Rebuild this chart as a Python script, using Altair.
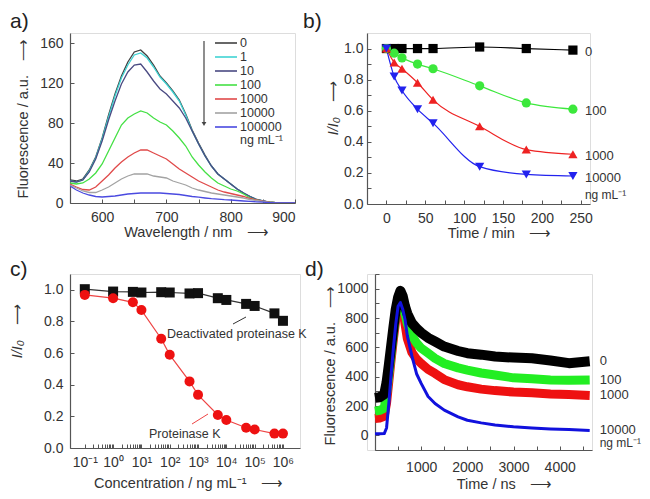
import altair as alt
import pandas as pd

FONT = "Liberation Sans"
TXT = "#333333"
AXC = "#555555"
ARROW = "\u2002\u2002\u27F6"
NG = "ng mL\u207B\u00B9"

# ---------------- panel a : emission spectra ----------------
wavelength = [550, 560, 570, 580, 590, 600, 610, 620, 630, 640, 650, 660, 670, 680, 690,
              700, 710, 720, 730, 740, 750, 760, 770, 780, 790, 800, 810, 820, 830, 840,
              850, 860, 870, 880, 890, 900]
a_series = ["0", "1", "10", "100", "1000", "10000", "100000"]
a_colors = ["#404040", "#3FD3D3", "#4A4A82", "#45E045", "#E04A4A", "#A3A3A3", "#4A4AE0"]
a_0 = [23, 22, 24, 33, 46, 65, 88, 109, 127, 141, 151, 153, 147, 138, 127, 120, 112, 103, 89, 73,
       60, 48, 37, 29, 24, 19, 14, 10, 6.5, 3.5, 2, 0.8, 0.3, 0, 0, 0]
a_1 = [22, 21, 23, 32, 45, 64, 86, 107, 125, 138, 148, 150, 145, 136, 126, 119, 111, 102, 88, 72,
       59, 47, 37, 29, 24, 19, 14, 10, 6.5, 3.5, 2, 0.8, 0.3, 0, 0, 0]
a_10 = [22, 21, 23, 31, 44, 62, 83, 102, 119, 131, 138, 139, 131, 122, 114, 109, 102, 95, 85, 72,
        59, 47, 37, 29, 24, 19, 14, 10, 6.5, 3.5, 2, 0.8, 0.3, 0, 0, 0]
a_100 = [20, 19, 20, 24, 30, 39, 52, 65, 78, 85, 89, 92, 90, 85, 81, 78, 72, 65, 57, 46,
         38, 31, 25, 20, 17, 14, 12, 9, 5, 3, 1.7, 0.8, 0.3, 0, 0, 0]
a_1000 = [19, 16, 13.5, 13, 16, 22, 28, 35, 41, 46, 50, 53, 53, 50, 47, 44, 39, 34, 30, 26,
          22, 19, 16, 13, 11, 9.5, 8, 6.5, 4.5, 3, 1.8, 0.8, 0.3, 0, 0, 0]
a_10000 = [18, 15, 12, 10.5, 10.5, 13, 16, 20, 24, 27, 29, 29, 29, 27, 26, 25, 22, 20, 18, 15,
           13, 11.5, 10, 9, 8, 7, 6, 5, 3.5, 2.5, 1.5, 0.6, 0.2, 0, 0, 0]
a_100000 = [17, 13, 10, 8, 6.5, 6, 6.5, 7, 8, 9, 9.5, 10, 10, 10, 10, 9.5, 9, 8.5, 7.5, 6.5,
            5.8, 5, 4.3, 3.8, 3.3, 3, 2.5, 2, 1.6, 1.2, 0.8, 0.4, 0.1, 0, 0, 0]
a_values = [a_0, a_1, a_10, a_100, a_1000, a_10000, a_100000]

# ---------------- panel b : time course ----------------
b_time = [0, 10, 20, 40, 60, 120, 180, 240]
b_series = ["0", "100", "1000", "10000"]
b_colors = ["#000000", "#3CE83C", "#EE2222", "#2222EE"]
b_shapes = ["square", "circle", "triangle-up", "triangle-down"]
b_0 = [1.0, 1.0, 1.0, 1.0, 1.0, 1.01, 1.0, 0.99]
b_100 = [1.0, 0.97, 0.94, 0.90, 0.87, 0.76, 0.65, 0.61]
b_1000 = [1.0, 0.91, 0.87, 0.78, 0.67, 0.50, 0.35, 0.32]
b_10000 = [1.0, 0.82, 0.73, 0.61, 0.52, 0.24, 0.19, 0.18]
b_values = [b_0, b_100, b_1000, b_10000]

# ---------------- panel c : concentration dependence ----------------
c_conc = [0.1, 1, 5, 10, 50, 100, 500, 1000, 5000, 10000, 50000, 100000, 500000, 1000000]
c_series = ["Deactivated proteinase K", "Proteinase K"]
c_deact = [1.004, 0.989, 0.987, 0.983, 0.985, 0.983, 0.977, 0.979, 0.947, 0.936, 0.911, 0.898, 0.851, 0.804]
c_prot = [0.968, 0.947, 0.921, 0.872, 0.691, 0.589, 0.421, 0.336, 0.209, 0.177, 0.128, 0.117, 0.091, 0.091]
c_tick_labels = ["10\u207B\u00B9", "10\u2070", "10\u00B9", "10\u00B2", "10\u00B3", "10\u2074", "10\u2075", "10\u2076"]
c_decades = [0.1, 1, 10, 100, 1000, 1e4, 1e5, 1e6]
c_minor_mult = [2, 3, 4, 5, 6, 7, 8, 9]

# ---------------- panel d : time-resolved emission ----------------
d_time = [0, 100, 200, 250, 300, 350, 400, 450, 500, 550, 600, 650, 700, 800, 900, 1000, 1150,
          1300, 1500, 1800, 2000, 2300, 2600, 3000, 3400, 3800, 4200, 4650]
d_series = ["0", "100", "1000", "10000"]
d_colors = ["#000000", "#22EE22", "#EE1111", "#1111DD"]
d_widths = [10, 9, 9, 3]
d_0 = [255, 260, 280, 360, 480, 610, 740, 860, 940, 985, 950, 880, 830, 765, 730, 700, 665,
       640, 605, 575, 560, 550, 537, 530, 525, 510, 492, 505]
d_100 = [165, 170, 185, 280, 420, 560, 700, 830, 920, 960, 920, 830, 760, 680, 630, 594, 560,
         525, 490, 460, 445, 425, 411, 392, 385, 378, 375, 378]
d_1000 = [115, 118, 130, 220, 370, 520, 660, 790, 880, 920, 880, 760, 660, 565, 520, 490, 450,
          422, 380, 345, 331, 315, 305, 295, 290, 282, 278, 272]
d_10000 = [10, 10, 12, 50, 220, 420, 600, 760, 880, 905, 860, 790, 680, 540, 420, 354, 265,
           217, 172, 126, 103, 85, 70, 58, 50, 44, 40, 33]
d_values = [d_0, d_100, d_1000, d_10000]


def long_df(xs, series, values, xname):
    rows = []
    for s, vals in zip(series, values):
        for x, v in zip(xs, vals):
            rows.append({xname: x, "v": v, "s": s})
    return pd.DataFrame(rows)


df_a = long_df(wavelength, a_series, a_values, "x")
df_b = long_df(b_time, b_series, b_values, "x")
df_c = long_df(c_conc, c_series, [c_deact, c_prot], "x")
df_d = long_df(d_time, d_series, d_values, "x")


def ax(**kw):
    base = dict(
        grid=False, domainColor=AXC, domainWidth=1.2, tickColor=AXC, tickWidth=1,
        tickSize={"expr": "-4"}, labelFont=FONT, labelFontSize=14, labelColor=TXT,
        titleFont=FONT, titleFontSize=14.5, titleFontWeight="normal", titleColor=TXT,
        labelPadding=11, labelOverlap=False,
    )
    base.update(kw)
    return alt.Axis(**base)


def xaxis(title, tx, ty, **kw):
    return ax(title=title, titleX=tx, titleY=ty, titleAlign="center",
              titleBaseline="alphabetic", titleAngle=0, **kw)


def yaxis(title, tx, ty, **kw):
    return ax(title=title, titleX=tx, titleY=ty, titleAlign="center",
              titleBaseline="middle", titleAngle=-90, **kw)


def panel_label(txt, dx, dy):
    return alt.Chart(pd.DataFrame({"t": [txt]})).mark_text(
        align="left", baseline="alphabetic", font=FONT, fontSize=21, color="#222222"
    ).encode(text="t:N", x=alt.value(dx), y=alt.value(dy))


# ---------- panel a chart ----------
color_a = alt.Scale(domain=a_series, range=a_colors)
lines_a = alt.Chart(df_a).mark_line(strokeWidth=1.3, clip=True).encode(
    x=alt.X("x:Q", scale=alt.Scale(domain=[550, 900], nice=False),
            axis=xaxis("Wavelength / nm" + ARROW, 126, 33, values=[600, 650, 700, 750, 800, 850, 900],
                       labelExpr="datum.value % 100 == 0 ? datum.label : ''")),
    y=alt.Y("v:Q", scale=alt.Scale(domain=[0, 170], nice=False),
            axis=yaxis("Fluorescence / a.u." + ARROW, -47, 85, values=[0, 40, 80, 120, 160])),
    color=alt.Color("s:N", scale=color_a, legend=None),
    order=alt.Order("x:Q"),
)
leg_df = pd.DataFrame({"s": a_series})
leg_y = alt.Y("s:N", sort=a_series, scale=alt.Scale(type="point", range=[10, 94], padding=0), axis=None)
leg_rules = alt.Chart(leg_df).mark_rule(strokeWidth=1.6).encode(
    y=leg_y, x=alt.value(145), x2=alt.value(167),
    color=alt.Color("s:N", scale=color_a, legend=None))
leg_text = alt.Chart(leg_df).mark_text(align="left", baseline="middle", font=FONT, fontSize=12.5,
                                       color=TXT).encode(y=leg_y, x=alt.value(170), text="s:N")
leg_unit = alt.Chart(pd.DataFrame({"t": [NG]})).mark_text(
    align="left", baseline="middle", font=FONT, fontSize=12.5, color=TXT
).encode(text="t:N", x=alt.value(170), y=alt.value(107))
arrow_a = alt.Chart(pd.DataFrame({"t": [0]})).mark_rule(color="#444444", strokeWidth=1.2).encode(
    x=alt.value(134), y=alt.value(8), y2=alt.value(90))
arrowhead_a = alt.Chart(pd.DataFrame({"t": [0]})).mark_point(
    shape="triangle-down", filled=True, size=22, color="#444444", opacity=1).encode(
    x=alt.value(134), y=alt.value(91))
chart_a = alt.layer(lines_a, leg_rules, leg_text, leg_unit, arrow_a, arrowhead_a,
                    panel_label("a)", -60, -5)).resolve_scale(y="independent").properties(
    width=225, height=170)

# ---------- panel b chart ----------
color_b = alt.Scale(domain=b_series, range=b_colors)
xb = alt.X("x:Q", scale=alt.Scale(domain=[-25, 262], nice=False),
           axis=xaxis("Time / min" + ARROW, 132, 33, values=[0, 25, 50, 75, 100, 125, 150, 175, 200, 225, 250],
                      labelExpr="datum.value % 50 == 0 ? datum.label : ''"))
yb = alt.Y("v:Q", scale=alt.Scale(domain=[0, 1.1], nice=False),
           axis=yaxis("I/I\u2080" + ARROW, -34, 75,
                      values=[0, 0.1, 0.2, 0.3, 0.4, 0.5, 0.6, 0.7, 0.8, 0.9, 1.0],
                      labelExpr="round(datum.value * 10) % 2 == 0 ? format(datum.value, '.1f') : ''",
                      titleFontStyle="italic", labelPadding=8))
lines_b = alt.Chart(df_b).mark_line(strokeWidth=1.2, interpolate="monotone").encode(
    x=xb, y=yb, color=alt.Color("s:N", scale=color_b, legend=None))
pts_b = alt.Chart(df_b).mark_point(filled=True, opacity=1, size=85).encode(
    x=xb, y=yb, color=alt.Color("s:N", scale=color_b, legend=None),
    shape=alt.Shape("s:N", scale=alt.Scale(domain=b_series, range=b_shapes), legend=None))
last_b = df_b[df_b["x"] == b_time[-1]]
lab_b = alt.Chart(last_b).mark_text(align="left", baseline="middle", dx=12, dy=2, font=FONT,
                                    fontSize=13, color=TXT).encode(x=xb, y=yb, text="s:N")
unit_b = alt.Chart(last_b[last_b["s"] == "10000"]).mark_text(
    align="left", baseline="middle", dx=12, dy=19, font=FONT, fontSize=12, color=TXT, text=NG
).encode(x=xb, y=yb)
chart_b = alt.layer(lines_b, pts_b, lab_b, unit_b, panel_label("b)", -64, -5)).properties(
    width=223, height=171)

# ---------- panel c chart ----------
c_tick_values = []
for dec in c_decades:
    c_tick_values.append(dec)
    if dec < 1e6:
        c_tick_values.extend(dec * m for m in c_minor_mult)
c_label_arr = "[" + ",".join("'" + t + "'" for t in c_tick_labels) + "]"
color_c = alt.Scale(domain=c_series, range=["#111111", "#EE1111"])
xc = alt.X("x:Q", scale=alt.Scale(type="log", domain=[0.03, 4e6], nice=False),
           axis=xaxis("Concentration / " + NG + ARROW, 118, 39,
                      values=c_tick_values,
                      labelExpr="abs(log(datum.value)/LN10 - round(log(datum.value)/LN10)) < 0.001 ? "
                                + c_label_arr + "[round(log(datum.value)/LN10)+1] : ''"))
yc = alt.Y("v:Q", scale=alt.Scale(domain=[0, 1.1], nice=False),
           axis=yaxis("I/I\u2080" + ARROW, -53, 57, values=[0, 0.2, 0.4, 0.6, 0.8, 1.0],
                      format=".1f", titleFontStyle="italic"))
lines_c = alt.Chart(df_c).mark_line(strokeWidth=1.2).encode(
    x=xc, y=yc, color=alt.Color("s:N", scale=alt.Scale(domain=c_series, range=["#333333", "#EE4444"]),
                                legend=None))
pts_c = alt.Chart(df_c).mark_point(filled=True, opacity=1, size=100).encode(
    x=xc, y=yc, color=alt.Color("s:N", scale=color_c, legend=None),
    shape=alt.Shape("s:N", scale=alt.Scale(domain=c_series, range=["square", "circle"]), legend=None))
ann_deact = alt.Chart(pd.DataFrame({"t": [c_series[0]]})).mark_text(
    align="left", baseline="middle", font=FONT, fontSize=12.5, color=TXT).encode(
    text="t:N", x=alt.value(97), y=alt.value(60))
ann_prot = alt.Chart(pd.DataFrame({"t": [c_series[1]]})).mark_text(
    align="left", baseline="middle", font=FONT, fontSize=12.5, color=TXT).encode(
    text="t:N", x=alt.value(79), y=alt.value(160))
ptr_deact = alt.Chart(pd.DataFrame({"t": [0]})).mark_rule(color="#333333", strokeWidth=1).encode(
    x=alt.value(163), x2=alt.value(176), y=alt.value(50), y2=alt.value(43))
ptr_prot = alt.Chart(pd.DataFrame({"t": [0]})).mark_rule(color="#EE4444", strokeWidth=1).encode(
    x=alt.value(122), x2=alt.value(138), y=alt.value(150), y2=alt.value(140))
chart_c = alt.layer(lines_c, pts_c, ann_deact, ann_prot, ptr_deact, ptr_prot,
                    panel_label("c)", -60, 2)).resolve_scale(color="independent").properties(
    width=230, height=174)

# ---------- panel d chart (view starts 8px left of its axis) ----------
xd = alt.X("x:Q", scale=alt.Scale(domain=[0, 4700], nice=False, range=[8, 225]),
           axis=xaxis("Time / ns" + ARROW, 137, 38, values=[500, 1000, 1500, 2000, 2500, 3000, 3500, 4000, 4500],
                      labelExpr="datum.value % 1000 == 0 ? datum.label : ''", format="d",
                      labelPadding=14))
yd = alt.Y("v:Q", scale=alt.Scale(domain=[-100, 1100], nice=False),
           axis=yaxis("Fluorescence / a.u." + ARROW, -45, 91,
                      values=[-100, 0, 100, 200, 300, 400, 500, 600, 700, 800, 900, 1000, 1100],
                      labelExpr="datum.value >= 0 && datum.value <= 1000 && datum.value % 200 == 0 ? "
                                "format(datum.value, 'd') : ''",
                      offset=-8))
d_layers = []
for s, col, w in [("1000", d_colors[2], d_widths[2]), ("100", d_colors[1], d_widths[1]),
                  ("0", d_colors[0], d_widths[0]), ("10000", d_colors[3], d_widths[3])]:
    d_layers.append(
        alt.Chart(df_d[df_d["s"] == s]).mark_line(strokeJoin="round", color=col, strokeWidth=w).encode(
            x=xd, y=yd, order=alt.Order("x:Q"))
    )
last_d = df_d[df_d["x"] == d_time[-1]]
lab_d = alt.Chart(last_d).mark_text(align="left", baseline="middle", dx=10, dy=0, font=FONT,
                                    fontSize=13, color=TXT).encode(x=xd, y=yd, text="s:N")
unit_d = alt.Chart(last_d[last_d["s"] == "10000"]).mark_text(
    align="left", baseline="middle", dx=10, dy=13, font=FONT, fontSize=12, color=TXT, text=NG
).encode(x=xd, y=yd)
chart_d = alt.layer(*d_layers, lab_d, unit_d, panel_label("d)", -62, 2)).properties(
    width=225, height=176)

chart = alt.concat(
    chart_a, chart_b, chart_c, chart_d, columns=2, bounds="flush",
    align="none",
    spacing={"row": 70, "column": 67},
).resolve_scale(color="independent", shape="independent").properties(
    padding={"left": 0, "top": 2, "right": 0, "bottom": 0}
).configure_view(stroke=None).configure(font=FONT)

chart.save("out.html", embed_options={"renderer": "svg", "actions": False})
